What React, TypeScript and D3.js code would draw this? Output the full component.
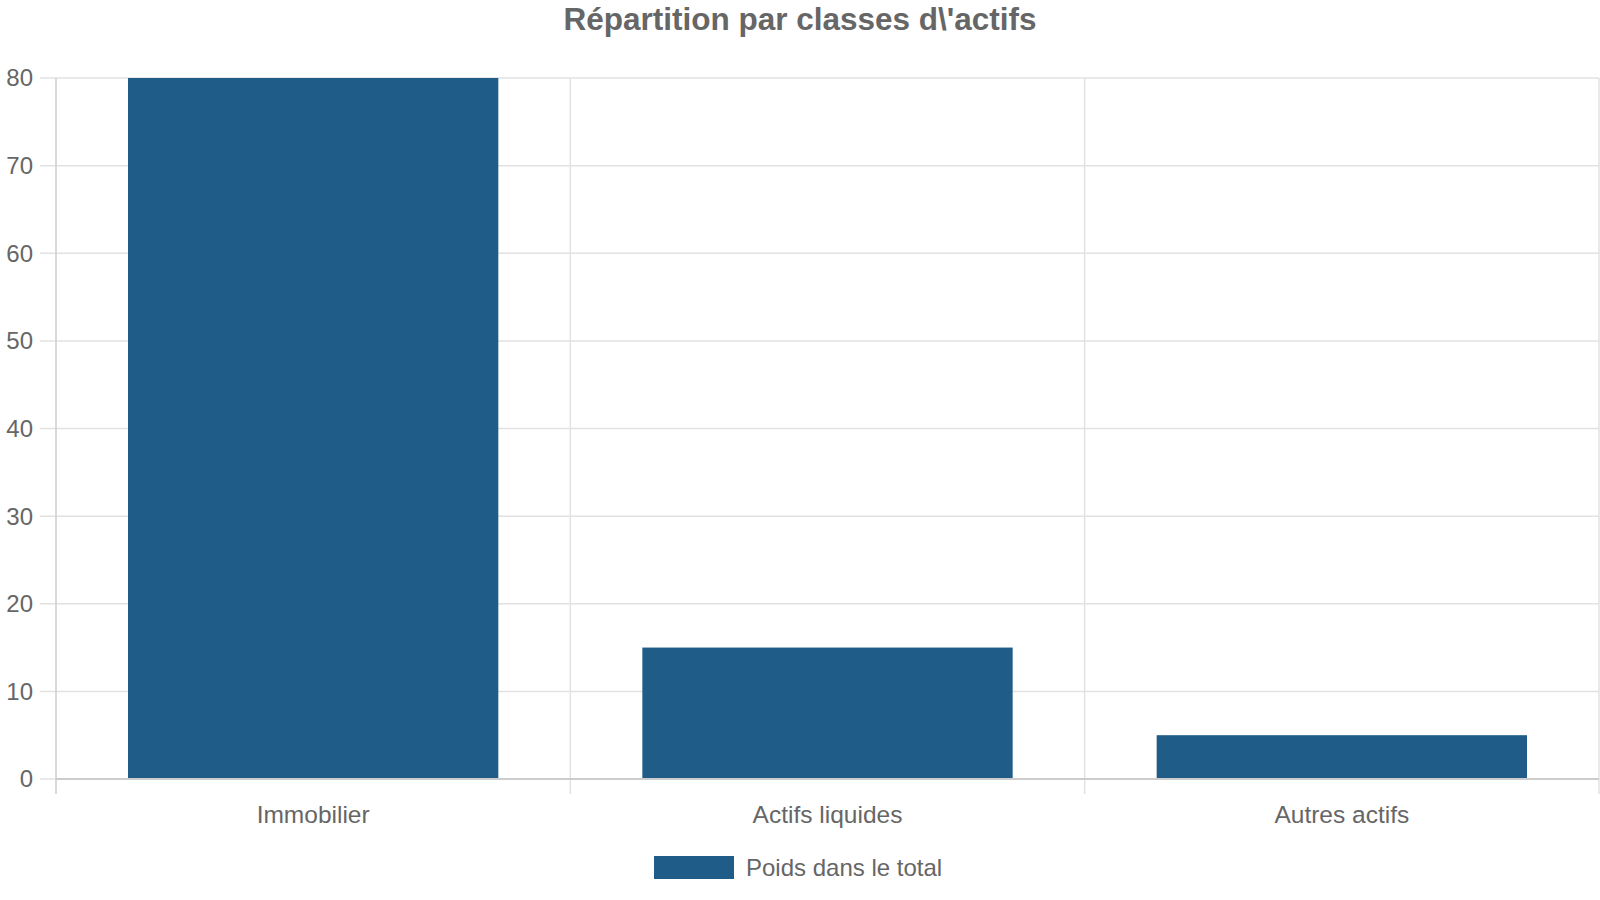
// App.tsx
import React, { useEffect, useRef } from 'react';
import * as d3 from 'd3';

const categories = ['Immobilier', 'Actifs liquides', 'Autres actifs'];
const weights = [80, 15, 5];
const yTicks = [0, 10, 20, 30, 40, 50, 60, 70, 80];
const seriesName = 'Poids dans le total';
const chartTitle = "Répartition par classes d\\'actifs";

const App: React.FC = () => {
    const svgRef = useRef<SVGSVGElement | null>(null);

    useEffect(() => {
        drawChart();
    }, []);

    const drawChart = () => {
        d3.select(svgRef.current).selectAll('*').remove();

        const width = 1600;
        const height = 900;
        const margin = { top: 78, right: 1, bottom: 121, left: 56 };
        const innerW = width - margin.left - margin.right;
        const innerH = height - margin.top - margin.bottom;
        const textColor = '#666666';
        const barColor = '#1f5c87';
        const gridColor = '#e2e2e2';
        const font = '"Liberation Sans", Arial, sans-serif';

        const svg = d3.select(svgRef.current)
            .attr('width', width)
            .attr('height', height)
            .style('font-family', font);

        const x = d3.scaleBand()
            .domain(categories)
            .range([0, innerW])
            .paddingInner(0)
            .paddingOuter(0);

        const y = d3.scaleLinear()
            .domain([0, 80])
            .range([innerH, 0]);

        const g = svg.append('g')
            .attr('transform', `translate(${margin.left},${margin.top})`);

        // horizontal grid + y ticks
        g.selectAll('.hgrid')
            .data(yTicks)
            .enter().append('line')
            .attr('class', 'hgrid')
            .attr('x1', -16)
            .attr('x2', innerW)
            .attr('y1', d => y(d))
            .attr('y2', d => y(d))
            .attr('stroke', gridColor)
            .attr('stroke-width', 1.5);

        g.selectAll('.ylabel')
            .data(yTicks)
            .enter().append('text')
            .attr('class', 'ylabel')
            .attr('x', -23)
            .attr('y', d => y(d))
            .attr('dy', '0.35em')
            .attr('text-anchor', 'end')
            .attr('font-size', '24px')
            .attr('fill', textColor)
            .text(d => d);

        // vertical grid on category edges
        const edges = categories.map(c => x(c) || 0).concat([innerW]);
        g.selectAll('.vgrid')
            .data(edges)
            .enter().append('line')
            .attr('class', 'vgrid')
            .attr('x1', d => d)
            .attr('x2', d => d)
            .attr('y1', 0)
            .attr('y2', innerH + 15)
            .attr('stroke', (d, i) => (i === 0 ? '#cccccc' : gridColor))
            .attr('stroke-width', 1.5);

        // bars
        const bw = x.bandwidth();
        g.selectAll('.bar')
            .data(weights)
            .enter().append('rect')
            .attr('class', 'bar')
            .attr('x', (d, i) => (x(categories[i]) || 0) + bw * 0.14)
            .attr('y', d => y(d))
            .attr('width', bw * 0.72)
            .attr('height', d => innerH - y(d))
            .attr('fill', barColor);

        // zero line
        g.append('line')
            .attr('x1', 0)
            .attr('x2', innerW)
            .attr('y1', innerH)
            .attr('y2', innerH)
            .attr('stroke', '#cccccc')
            .attr('stroke-width', 2);

        // x labels
        g.selectAll('.xlabel')
            .data(categories)
            .enter().append('text')
            .attr('class', 'xlabel')
            .attr('x', d => (x(d) || 0) + bw / 2)
            .attr('y', innerH + 44)
            .attr('text-anchor', 'middle')
            .attr('font-size', '24.5px')
            .attr('fill', textColor)
            .text(d => d);

        // title
        svg.append('text')
            .attr('x', width / 2)
            .attr('y', 30)
            .attr('text-anchor', 'middle')
            .attr('font-size', '31.5px')
            .attr('font-weight', 'bold')
            .attr('fill', textColor)
            .text(chartTitle);

        // legend
        const legend = svg.append('g')
            .attr('transform', 'translate(654,856)');
        legend.append('rect')
            .attr('width', 80)
            .attr('height', 23)
            .attr('fill', barColor);
        legend.append('text')
            .attr('x', 92)
            .attr('y', 20)
            .attr('font-size', '24px')
            .attr('fill', textColor)
            .text(seriesName);
    };

    return (
        <div style={{ position: 'absolute', left: 0, top: 0 }}>
            <svg ref={svgRef} style={{ display: 'block' }}></svg>
        </div>
    );
};

export default App;
